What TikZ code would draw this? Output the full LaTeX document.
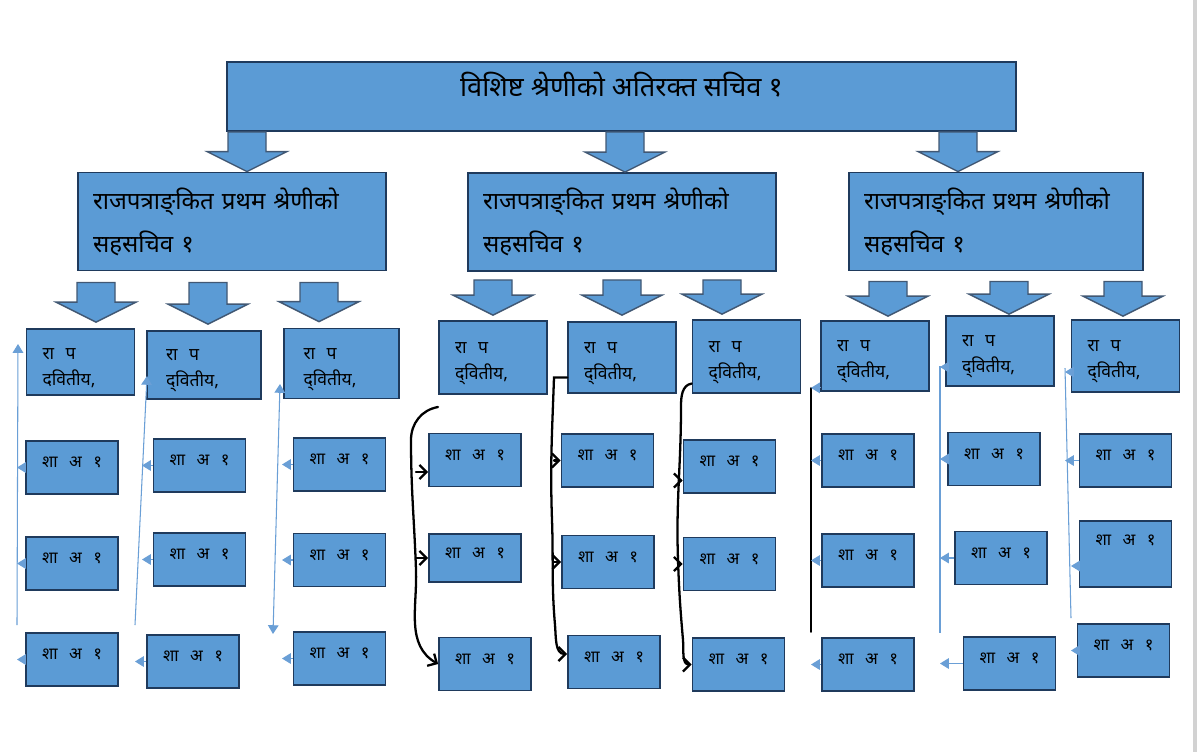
\documentclass[tikz,border=0pt]{standalone}
\usepackage{fontspec}
\setmainfont[Script=Devanagari]{Noto Sans}
\usepackage{xcolor}
\definecolor{ChartBlue}{HTML}{5B9BD5}
\definecolor{ChartNavy}{HTML}{1F3A5C}
\definecolor{ChartLine}{HTML}{6A9FD6}
\usepackage{tikz}
\usetikzlibrary{positioning,arrows.meta,calc}
\tikzset{
  topbox/.style={draw=ChartNavy,fill=ChartBlue,line width=1.1pt,minimum width=15.78cm,minimum height=1.38cm,text height=8pt,text depth=8pt,font=\fontsize{15.5}{18}\selectfont},
  headbox/.style={draw=ChartNavy,fill=ChartBlue,line width=1.1pt,align=left,inner xsep=0.3cm,text width=5.56cm,minimum height=1.96cm,font=\fontsize{13.7}{24.4}\selectfont},
  rapbox/.style={draw=ChartNavy,fill=ChartBlue,line width=1pt,align=left,inner xsep=0.32cm,text width=1.52cm,minimum height=1.4cm,font=\fontsize{10}{14.7}\selectfont,execute at begin node={\rule{0pt}{13pt}}},
  shabox/.style={draw=ChartNavy,fill=ChartBlue,line width=1pt,minimum width=1.84cm,minimum height=1.06cm,text height=6pt,text depth=6pt,font=\fontsize{9.5}{12}\selectfont},
  blockarrow/.style={draw=ChartNavy!85,fill=ChartBlue,line width=0.8pt,line join=miter},
  bluelink/.style={draw=ChartLine,line width=0.6pt},
  bluetick/.style={draw=ChartLine,line width=0.6pt,-{Triangle[length=5pt,width=6pt]}},
  inklink/.style={draw=black,line width=1.3pt,line cap=round},
  inkarrow/.style={inklink,-{Straight Barb[length=4pt,width=8pt]}}
}
% wide word gap as in the scanned chart
\newcommand{\wgap}{\hspace{6.5pt}}
% fat down arrow: x, from node, to node, gap below from, gap above to
\newcommand{\fatarrow}[5]{%
  \coordinate (fa-t) at ($(#1,0 |- #2.south)+(0,#4)$);
  \coordinate (fa-h) at ($(#1,0 |- #3.north)+(0,-#5)$);
  \draw[blockarrow] ($(fa-t)+(-19,0)$) -- ($(fa-t)+(19,0)$) -- ($(fa-h)+(19,-20)$)
    -- ($(fa-h)+(40,-20)$) -- (fa-h) -- ($(fa-h)+(-40,-20)$) -- ($(fa-h)+(-19,-20)$) -- cycle;}

\begin{document}
\begin{tikzpicture}[x=0.02cm,y=-0.02cm]
  \fill[white] (0,0) rectangle (1200,752);
  \useasboundingbox (0,0) rectangle (1200,752);
  \draw[gray!35,line width=2pt] (1195,0) -- (1195,752);

  % top
  \node[topbox] (chief) at (621.5,96.5) {विशिष्ट श्रेणीको अतिरक्त सचिव १};

  % joint secretaries
  \node[headbox] (jsA) at (232,221.5) {राजपत्राङ्^^^^200cकित प्रथम श्रेणीको\\सहसचिव १};
  \node[headbox] (jsB) at (622,222) {राजपत्राङ्^^^^200cकित प्रथम श्रेणीको\\सहसचिव १};
  \node[headbox,text width=5.28cm] (jsC) at (996,221.5) {राजपत्राङ्^^^^200cकित प्रथम श्रेणीको\\सहसचिव १};

  \fatarrow{247}{chief}{jsA}{0}{0}
  \fatarrow{625}{chief}{jsB}{0}{0}
  \fatarrow{958}{chief}{jsC}{0}{0}

  % second class officers
  \node[rapbox,minimum height=1.32cm] (raA1) at (80.5,362) {रा\wgap प\\दवितीय,};
  \node[rapbox,minimum width=2.28cm,minimum height=1.36cm] (raA2) at (204,365) {रा\wgap प\\द्^^^^200cवितीय,};
  \node[rapbox,minimum width=2.3cm] (raA3) at (341.5,363.5) {रा\wgap प\\द्^^^^200cवितीय,};
  \node[rapbox,minimum height=1.46cm] (raB1) at (493,357.5) {रा\wgap प\\द्^^^^200cवितीय,};
  \node[rapbox,minimum height=1.42cm] (raB2) at (622,357.5) {रा\wgap प\\द्^^^^200cवितीय,};
  \node[rapbox,minimum height=1.46cm] (raB3) at (746.5,356.5) {रा\wgap प\\द्^^^^200cवितीय,};
  \node[rapbox] (raC1) at (875,356) {रा\wgap प\\द्^^^^200cवितीय,};
  \node[rapbox] (raC2) at (1000,351) {रा\wgap प\\द्^^^^200cवितीय,};
  \node[rapbox,minimum height=1.44cm] (raC3) at (1125.5,356) {रा\wgap प\\द्^^^^200cवितीय,};

  \fatarrow{96}{jsA}{raA1}{11}{6}
  \fatarrow{208}{jsA}{raA2}{11}{6}
  \fatarrow{319}{jsA}{raA3}{11}{6}
  \fatarrow{493}{jsB}{raB1}{8}{5}
  \fatarrow{622}{jsB}{raB2}{8}{6}
  \fatarrow{722}{jsB}{raB3}{8}{5}
  \fatarrow{888}{jsC}{raC1}{10}{4}
  \fatarrow{1009}{jsC}{raC2}{10}{1}
  \fatarrow{1123}{jsC}{raC3}{10}{3}

  % section officers
  \node[shabox] (sA11) at (72,467.5) {शा\wgap अ\wgap १};
  \node[shabox] (sA12) at (72,563.5) {शा\wgap अ\wgap १};
  \node[shabox] (sA13) at (72,659.5) {शा\wgap अ\wgap १};
  \node[shabox] (sA21) at (199.5,465.5) {शा\wgap अ\wgap १};
  \node[shabox] (sA22) at (199.5,559.5) {शा\wgap अ\wgap १};
  \node[shabox] (sA23) at (193,661.5) {शा\wgap अ\wgap १};
  \node[shabox] (sA31) at (339.5,464.5) {शा\wgap अ\wgap १};
  \node[shabox] (sA32) at (339.5,560) {शा\wgap अ\wgap १};
  \node[shabox] (sA33) at (339.5,658.5) {शा\wgap अ\wgap १};
  \node[shabox] (sB11) at (475,460) {शा\wgap अ\wgap १};
  \node[shabox,minimum height=0.96cm] (sB12) at (475,558) {शा\wgap अ\wgap १};
  \node[shabox] (sB13) at (485,664) {शा\wgap अ\wgap १};
  \node[shabox] (sB21) at (607.5,460.5) {शा\wgap अ\wgap १};
  \node[shabox] (sB22) at (608,562) {शा\wgap अ\wgap १};
  \node[shabox] (sB23) at (614,662) {शा\wgap अ\wgap १};
  \node[shabox] (sB31) at (729.5,466.5) {शा\wgap अ\wgap १};
  \node[shabox] (sB32) at (729.5,564) {शा\wgap अ\wgap १};
  \node[shabox] (sB33) at (738.5,664.5) {शा\wgap अ\wgap १};
  \node[shabox] (sC11) at (868,460.5) {शा\wgap अ\wgap १};
  \node[shabox] (sC12) at (868,560.5) {शा\wgap अ\wgap १};
  \node[shabox] (sC13) at (868,664.5) {शा\wgap अ\wgap १};
  \node[shabox] (sC21) at (994,459) {शा\wgap अ\wgap १};
  \node[shabox] (sC22) at (1001,558) {शा\wgap अ\wgap १};
  \node[shabox] (sC23) at (1009.5,663.5) {शा\wgap अ\wgap १};
  \node[shabox] (sC31) at (1125.5,460.5) {शा\wgap अ\wgap १};
  \node[shabox,minimum height=1.32cm,text depth=16pt] (sC32) at (1125.5,554) {शा\wgap अ\wgap १};
  \node[shabox] (sC33) at (1123.5,650.5) {शा\wgap अ\wgap १};

  % left group: thin blue rails
  \coordinate (lA1t) at (18,344);
  \coordinate (lA1b) at (17,625);
  \coordinate (lA2t) at (147,376);
  \coordinate (lA2b) at (135,625);
  \coordinate (lA2r) at (142,0);
  \coordinate (lA3t) at (280,384);
  \coordinate (lA3b) at (273,634);
  \coordinate (lA3r) at (282,0);
  \draw[bluelink,-{Triangle[length=5pt,width=6pt]}] (lA1b) -- (lA1t);
  \draw[bluelink,-{Triangle[length=5pt,width=6pt]}] (lA2b) -- (lA2t);
  \draw[bluelink,{Triangle[length=5pt,width=6pt]}-{Triangle[length=5pt,width=6pt]}] (lA3t) -- (lA3b);
  \draw[bluetick] (sA11.west) -- (sA11.west -| lA1b);
  \draw[bluetick] (sA12.west) -- (sA12.west -| lA1b);
  \draw[bluetick] (sA13.west) -- (sA13.west -| lA1b);
  \draw[bluetick] (sA21.west) -- (sA21.west -| lA2r);
  \draw[bluetick] (sA22.west) -- (sA22.west -| lA2r);
  \draw[bluetick] (sA23.west) -- (sA23.west -| lA2b);
  \draw[bluetick] (sA31.west) -- (sA31.west -| lA3r);
  \draw[bluetick] (sA32.west) -- (sA32.west -| lA3r);
  \draw[bluetick] (sA33.west) -- (sA33.west -| lA3r);

  % middle group: hand drawn ink
  \coordinate (kB1s) at (438,407);
  \coordinate (kB1) at (416,0);
  \coordinate (kB2) at (554,0);
  \coordinate (kB3) at (681,0);
  \draw[inkarrow] (kB1s) to[out=190,in=90] (411,440) to[out=-90,in=92] (416,570)
    to[out=-88,in=150] (sB13.west);
  \draw[inkarrow] ($(sB11.west -| kB1)+(0,12)$) -- ($(sB11.west)+(0,12)$);
  \draw[inkarrow] (sB12.west -| kB1) -- (sB12.west);
  \draw[inkarrow] ($(raB2.west)+(0,20)$) -- ($(raB2.west -| kB2)+(0,20)$)
    to[out=-92,in=92] (552,520) to[out=-88,in=95] (555,625) to[out=-85,in=180] ($(sB23.west)+(0,-8)$);
  \draw[inkarrow] (sB21.west -| kB2) -- (sB21.west);
  \draw[inkarrow] (sB22.west -| kB2) -- (sB22.west);
  \draw[inkarrow] ($(raB3.west)+(0,27)$) to[out=190,in=90] ($(raB3.west -| kB3)+(0,50)$)
    to[out=-90,in=92] (678,560) to[out=-88,in=95] (683,640) to[out=-85,in=180] (sB33.west);
  \draw[inkarrow] ($(sB31.west -| kB3)+(0,14)$) -- ($(sB31.west)+(0,14)$);
  \draw[inkarrow] (sB32.west -| kB3) -- (sB32.west);

  % right group
  \coordinate (kC1t) at (811,388);
  \coordinate (kC1b) at (811,632);
  \coordinate (lC2t) at (940,366);
  \coordinate (lC2b) at (940,633);
  \coordinate (lC3t) at (1065,368);
  \coordinate (lC3b) at (1071,618);
  \draw[inklink,line width=1pt] (kC1t) -- (kC1b);
  \draw[bluelink] (lC2t) -- (lC2b);
  \draw[bluelink] (lC3t) -- (lC3b);
  \draw[bluetick] ($(raC1.south west)+(0,-4)$) -- ($(raC1.south west -| kC1t)+(0,-4)$);
  \draw[bluetick] (sC11.west) -- (sC11.west -| kC1t);
  \draw[bluetick] (sC12.west) -- (sC12.west -| kC1t);
  \draw[bluetick] (sC13.west) -- (sC13.west -| kC1t);
  \draw[bluetick] ($(raC2.west)+(0,16)$) -- ($(raC2.west -| lC2t)+(0,16)$);
  \draw[bluetick] (sC21.west) -- (sC21.west -| lC2t);
  \draw[bluetick] (sC22.west) -- (sC22.west -| lC2t);
  \draw[bluetick] (sC23.west) -- (sC23.west -| lC2t);
  \draw[bluetick] ($(raC3.west)+(0,16)$) -- ($(raC3.west -| lC3t)+(0,16)$);
  \draw[bluetick] (sC31.west) -- (sC31.west -| lC3t);
  \draw[bluetick] ($(sC32.west)+(0,12)$) -- ($(sC32.west -| lC3b)+(0,12)$);
  \draw[bluetick] (sC33.west) -- (sC33.west -| lC3b);
\end{tikzpicture}
\end{document}
